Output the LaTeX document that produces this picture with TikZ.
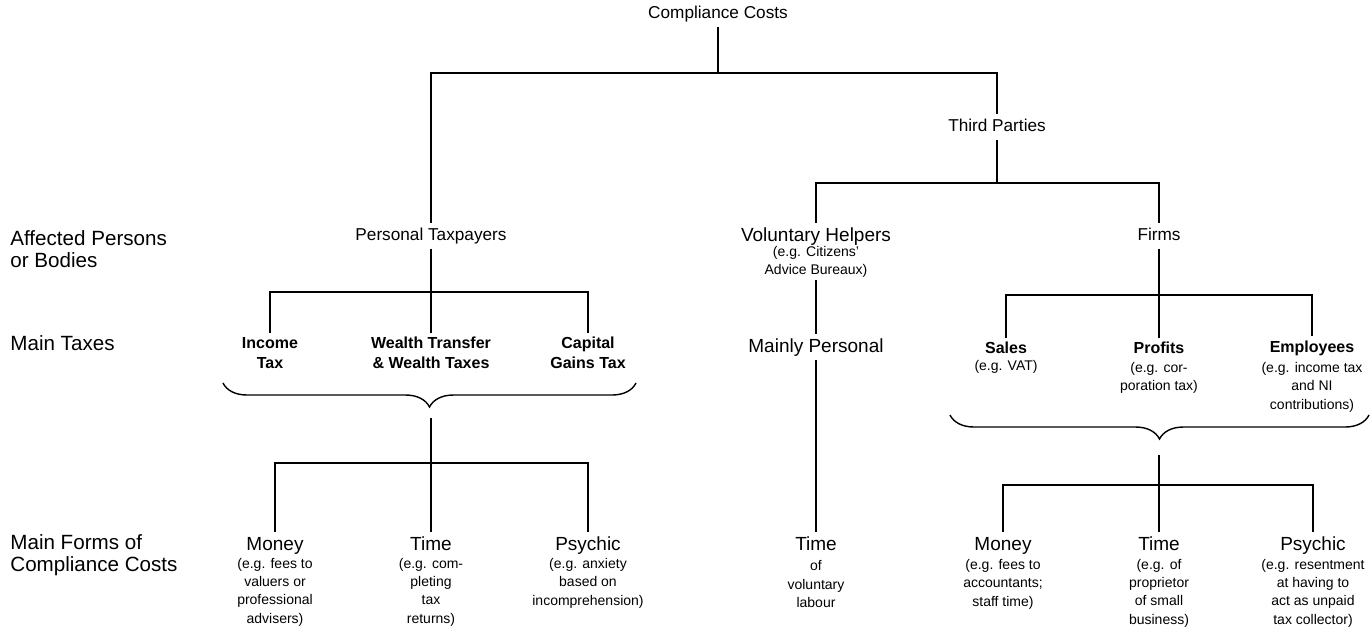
\documentclass[tikz,border=0pt]{standalone}
\usepackage{fontspec}
\setmainfont{Liberation Sans}
\usetikzlibrary{decorations.pathreplacing}

\begin{document}
\begin{tikzpicture}[x=0.5pt, y=-0.5pt,
    lbl/.style={font=\fontsize{8.6}{10.5}\selectfont, inner sep=2pt, align=center, text height=6.4pt, text depth=1.8pt},
    biglbl/.style={font=\fontsize{9.5}{11}\selectfont, inner sep=2pt, align=center, text height=7pt, text depth=2pt},
    tax/.style={font=\fontsize{8}{10}\selectfont\bfseries, inner sep=2pt, align=center},
    note/.style={font=\fontsize{7}{9.2}\selectfont, inner sep=1pt, align=center},
    side/.style={font=\fontsize{10.3}{11}\selectfont, anchor=west, align=left, inner sep=0pt},
    link/.style={line width=1.4pt},
    brc/.style={line width=0.7pt, decorate, decoration={brace, mirror, amplitude=12pt}}]
  \useasboundingbox (0,0) rectangle (1371,629);

  % row labels
  \node[side] (rowA) at (10,249) {Affected Persons\\or Bodies};
  \node[side] (rowB) at (10,343) {Main Taxes};
  \node[side] (rowC) at (10,555) {Main Forms of\\Compliance Costs};

  % top of the tree
  \node[lbl] (cc) at (718,14) {Compliance Costs};
  \node[lbl] (tp) at (997,127) {Third Parties};
  \node[lbl] (pt) at (431,236) {Personal Taxpayers};
  \node[biglbl] (vh) at (816,236) {Voluntary Helpers};
  \node[note] (vhs) at (816,262) {(e.g. Citizens'\\Advice Bureaux)};
  \node[lbl] (fi) at (1159,236) {Firms};
  \node[biglbl] (mp) at (816,347) {Mainly Personal};

  % taxes
  \node[tax] (it) at (270,353) {Income\\Tax};
  \node[tax] (wt) at (431,353) {Wealth Transfer\\\& Wealth Taxes};
  \node[tax] (cg) at (588,353) {Capital\\Gains Tax};
  \node[tax] (sa) at (1006,348) {Sales};
  \node[note] (sas) at (1006,367) {(e.g. VAT)};
  \node[tax] (pr) at (1159,348) {Profits};
  \node[note] (prs) at (1159,378) {(e.g. cor-\\poration tax)};
  \node[tax] (em) at (1312,348) {Employees};
  \node[note] (ems) at (1312,387) {(e.g. income tax\\and NI\\contributions)};

  % forms of costs
  \node[biglbl] (lm) at (275,545) {Money};
  \node[note] (lms) at (275,592) {(e.g. fees to\\valuers or\\professional\\advisers)};
  \node[biglbl] (lt) at (431,545) {Time};
  \node[note] (lts) at (431,592) {(e.g. com-\\pleting\\tax\\returns)};
  \node[biglbl] (lp) at (588,545) {Psychic};
  \node[note] (lps) at (588,583) {(e.g. anxiety\\based on\\incomprehension)};
  \node[biglbl] (vt) at (816,545) {Time};
  \node[note] (vts) at (816,584) {of\\voluntary\\labour};
  \node[biglbl] (rm) at (1003,545) {Money};
  \node[note] (rms) at (1003,584) {(e.g. fees to\\accountants;\\staff time)};
  \node[biglbl] (rt) at (1159,545) {Time};
  \node[note] (rts) at (1159,593) {(e.g. of\\proprietor\\of small\\business)};
  \node[biglbl] (rp) at (1313,545) {Psychic};
  \node[note] (rps) at (1313,593) {(e.g. resentment\\at having to\\act as unpaid\\tax collector)};

  % junctions
  \coordinate (j0) at (718,73);
  \coordinate (j1) at (997,183);
  \coordinate (j2) at (431,292);
  \coordinate (j3) at (1159,295);
  \coordinate (lbt) at (431,418);
  \coordinate (j4) at (431,463);
  \coordinate (rbt) at (1159,455);
  \coordinate (j5) at (1159,485);
  \coordinate (lb1) at (223,383);
  \coordinate (lb2) at (636,383);
  \coordinate (rb1) at (950,415);
  \coordinate (rb2) at (1369,415);

  \draw[link] (cc) -- (j0) -| (pt);
  \draw[link] (j0) -| (tp);
  \draw[link] (tp) -- (j1) -| (vh);
  \draw[link] (j1) -| (fi);
  \draw[link] (vhs) -- (mp);
  \draw[link] (mp) -- (vt);
  \draw[link] (pt) -- (j2) -| (it);
  \draw[link] (j2) -- (wt);
  \draw[link] (j2) -| (cg);
  \draw[link] (fi) -- (j3) -| (sa);
  \draw[link] (j3) -- (pr);
  \draw[link] (j3) -| (em);

  % braces
  \draw[brc] (lb1) -- (lb2);
  \draw[link] (lbt) -- (j4) -| (lm);
  \draw[link] (j4) -- (lt);
  \draw[link] (j4) -| (lp);
  \draw[brc] (rb1) -- (rb2);
  \draw[link] (rbt) -- (j5) -| (rm);
  \draw[link] (j5) -- (rt);
  \draw[link] (j5) -| (rp);
\end{tikzpicture}
\end{document}
